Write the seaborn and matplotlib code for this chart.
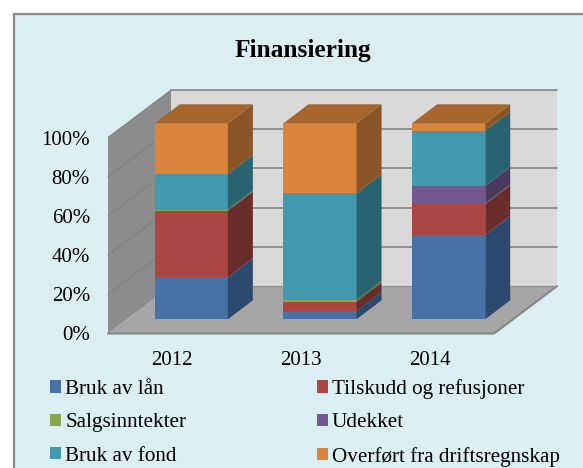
from __future__ import annotations

import matplotlib

matplotlib.use("Agg")

import matplotlib.pyplot as plt
import matplotlib.transforms as mtransforms
import numpy as np
import seaborn as sns
from matplotlib.patches import Patch, Polygon, Rectangle

YEARS = ["2012", "2013", "2014"]
SERIES = [
    "Bruk av lån",
    "Tilskudd og refusjoner",
    "Salgsinntekter",
    "Udekket",
    "Bruk av fond",
    "Overført fra driftsregnskap",
]
BRUK_AV_LAN = [21.4, 4.2, 43.0]
TILSKUDD = [34.0, 4.8, 15.8]
SALG = [0.6, 1.0, 0.2]
UDEKKET = [0.0, 0.0, 9.0]
BRUK_AV_FOND = [18.0, 54.3, 28.2]
OVERFORT = [26.0, 35.7, 3.8]
Y_TICKS = [0, 20, 40, 60, 80, 100]
Y_LABELS = ["0%", "20%", "40%", "60%", "80%", "100%"]

FRONT = ["#4571A7", "#AA4643", "#89A54E", "#71588F", "#4198AF", "#DB843D"]
SIDE = ["#2C4A70", "#692C2A", "#5A7030", "#4B3A60", "#276370", "#895426"]
TOP_COLOR = "#A6652D"
BG = "#DAEEF3"
WIDTH = 0.568
W, H = 583, 468


def draw_walls(ax):
    # floor depth in data units
    dx, dy = 0.49, 24.2
    kw = dict(clip_on=False, zorder=0.5, linewidth=0)
    ax.add_patch(Polygon([(-0.5 + dx, dy), (2.5 + dx, dy), (2.5 + dx, 100 + dy), (-0.5 + dx, 100 + dy)], facecolor="#D9D9D9", **kw))
    ax.add_patch(Polygon([(-0.5, 0), (-0.5 + dx, dy), (-0.5 + dx, 100 + dy), (-0.5, 100)], facecolor="#8C8C8C", **kw))
    ax.add_patch(Polygon([(-0.5, 0), (2.5, 0), (2.5 + dx, dy), (-0.5 + dx, dy)], facecolor="#A6A6A6", **kw))
    line = dict(clip_on=False, zorder=0.7)
    for t in Y_TICKS[1:]:
        ax.plot([-0.5 + dx, 2.5 + dx], [t + dy, t + dy], color="#8A8A8A", linewidth=1.3, **line)
        ax.plot([-0.5, -0.5 + dx], [t, t + dy], color="#808080", linewidth=0.8, **line)
    ax.plot([-0.5, 2.5, 2.5 + dx], [0, 0, dy], color="#858585", linewidth=1.5, **line)
    ax.plot([-0.5 + dx, 2.5 + dx], [dy, dy], color="#8F8F8F", linewidth=0.8, **line)


def draw_bars(ax, fig, stacks):
    front = mtransforms.offset_copy(ax.transData, fig=fig, x=19, y=14.2, units="dots")
    depth_x, depth_y = 25 / 128.7, 19 / 1.96
    bottoms = np.zeros(len(YEARS))
    for values, color, side in zip(stacks, FRONT, SIDE):
        n_before = len(ax.patches)
        sns.barplot(
            x=YEARS, y=values, bottom=bottoms, color=color, saturation=1,
            width=WIDTH, linewidth=0, errorbar=None, ax=ax, zorder=2,
        )
        for bar in ax.patches[n_before:]:
            bar.set_transform(front)
            bar.set_clip_on(False)
        for i, (val, base) in enumerate(zip(values, bottoms)):
            if val <= 0:
                continue
            right = i + WIDTH / 2
            ax.add_patch(Polygon(
                [(right, base), (right + depth_x, base + depth_y),
                 (right + depth_x, base + val + depth_y), (right, base + val)],
                facecolor=side, linewidth=0, transform=front, clip_on=False, zorder=2,
            ))
        bottoms = bottoms + np.array(values)
    for i, total in enumerate(bottoms):
        left, right = i - WIDTH / 2, i + WIDTH / 2
        ax.add_patch(Polygon(
            [(left, total), (right, total), (right + depth_x, total + depth_y), (left + depth_x, total + depth_y)],
            facecolor=TOP_COLOR, linewidth=0, transform=front, clip_on=False, zorder=2,
        ))


def main() -> None:
    sns.set_theme(style="white")
    plt.rcParams["font.family"] = ["Liberation Serif", "DejaVu Serif"]
    fig = plt.figure(figsize=(W / 100, H / 100), dpi=100, facecolor="white")
    fig.add_artist(Rectangle(
        (13.5 / W, -0.05), 1.1, 1 - 14 / H + 0.05, transform=fig.transFigure,
        facecolor=BG, edgecolor="#8C8C8C", linewidth=1.6, zorder=-1,
    ))
    ax = fig.add_axes([108 / W, 1 - 333.5 / H, 386 / W, 196 / H])
    ax.patch.set_visible(False)

    draw_bars(ax, fig, [BRUK_AV_LAN, TILSKUDD, SALG, UDEKKET, BRUK_AV_FOND, OVERFORT])
    draw_walls(ax)

    ax.set_xlim(-0.5, 2.5)
    ax.set_ylim(0, 100)
    ax.set_yticks(Y_TICKS, Y_LABELS)
    ax.tick_params(axis="y", length=0, pad=13, labelsize=15, labelcolor="black")
    ax.tick_params(axis="x", length=0, pad=12.5, labelsize=15, labelcolor="black")
    sns.despine(ax=ax, left=True, bottom=True)

    fig.text(303 / W, 1 - 50 / H, "Finansiering", ha="center", va="center", fontsize=18.3, fontweight="bold", color="black")

    order = [0, 2, 4, 1, 3, 5]
    handles = [Patch(facecolor=FRONT[i], linewidth=0) for i in order]
    fig.legend(
        handles, [SERIES[i] for i in order], ncol=2, frameon=False, fontsize=15.2,
        loc="upper left", bbox_to_anchor=(50 / W, 1 - 379 / H), borderpad=0, borderaxespad=0,
        handlelength=0.52, handleheight=0.52, handletextpad=0.2,
        columnspacing=6.18, labelspacing=0.68, labelcolor="black",
    )
    fig.savefig("out.png", dpi=100, facecolor="white")


if __name__ == "__main__":
    main()
